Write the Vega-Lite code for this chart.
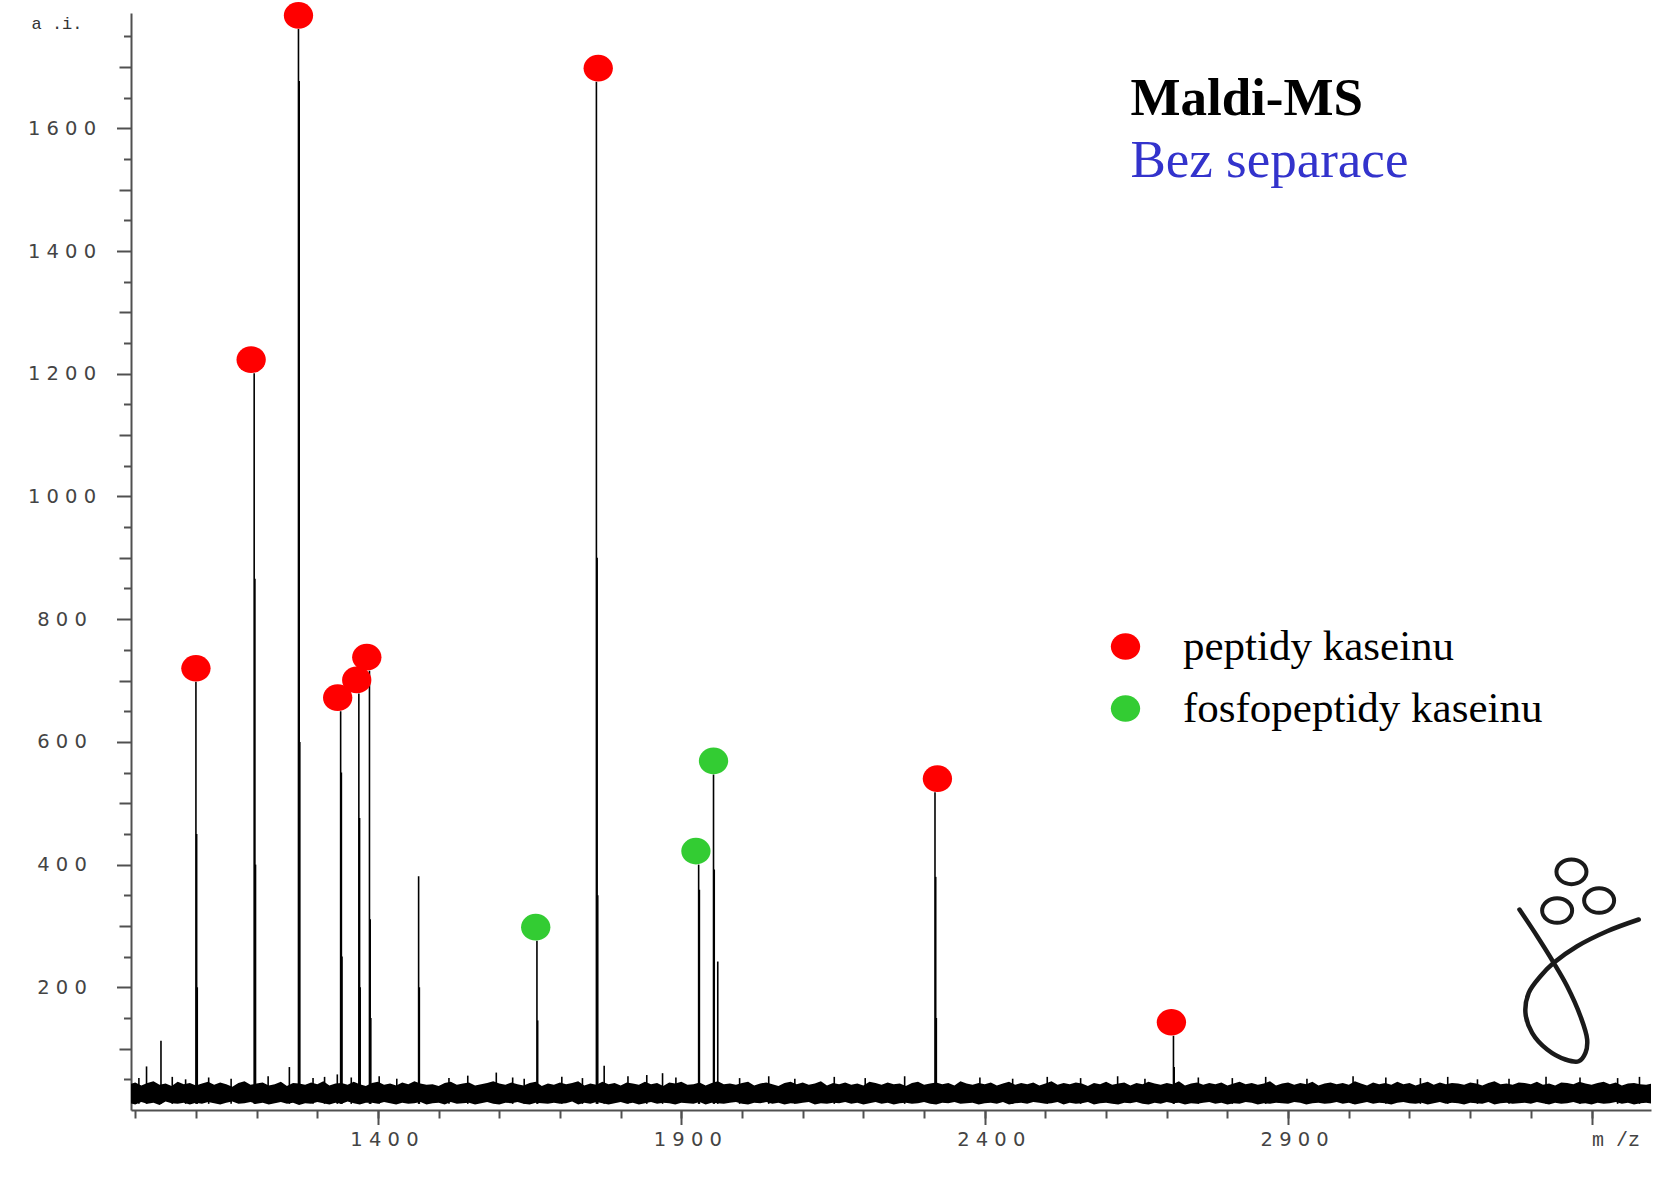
{
  "$schema": "https://vega.github.io/schema/vega-lite/v6.json",
  "width": 1520,
  "height": 1097,
  "autosize": {"type": "none"},
  "padding": {"left": 131, "top": 13, "right": 16, "bottom": 72},
  "background": "white",
  "config": {
    "view": {"stroke": null},
    "axis": {"grid": false, "domainColor": "#505050", "tickColor": "#505050", "tickWidth": 2, "domainWidth": 2, "labelColor": "#444444", "labelFont": "DejaVu Sans", "labelFontSize": 19.5}
  },
  "datasets": {
    "band": [
      {"m":990,"lo":11,"hi":42},{"m":1000,"lo":9,"hi":45},{"m":1010,"lo":13,"hi":40},{"m":1020,"lo":10,"hi":44},{"m":1030,"lo":12,"hi":47},{"m":1040,"lo":8,"hi":41},{"m":1050,"lo":14,"hi":43},{"m":1060,"lo":11,"hi":39},{"m":1070,"lo":10,"hi":46},{"m":1080,"lo":12,"hi":42},
      {"m":1090,"lo":9,"hi":44},{"m":1100,"lo":12,"hi":40},{"m":1110,"lo":10,"hi":43},{"m":1120,"lo":13,"hi":46},{"m":1130,"lo":11,"hi":41},{"m":1140,"lo":9,"hi":45},{"m":1150,"lo":12,"hi":42},{"m":1160,"lo":14,"hi":38},{"m":1170,"lo":10,"hi":44},{"m":1180,"lo":11,"hi":47},
      {"m":1190,"lo":13,"hi":41},{"m":1200,"lo":10,"hi":43},{"m":1210,"lo":12,"hi":45},{"m":1220,"lo":9,"hi":40},{"m":1230,"lo":11,"hi":42},{"m":1240,"lo":13,"hi":46},{"m":1250,"lo":10,"hi":39},{"m":1260,"lo":12,"hi":44},{"m":1270,"lo":8,"hi":43},{"m":1280,"lo":11,"hi":41},
      {"m":1290,"lo":10,"hi":45},{"m":1300,"lo":13,"hi":42},{"m":1310,"lo":11,"hi":47},{"m":1320,"lo":9,"hi":40},{"m":1330,"lo":12,"hi":43},{"m":1340,"lo":10,"hi":44},{"m":1350,"lo":14,"hi":41},{"m":1360,"lo":11,"hi":46},{"m":1370,"lo":9,"hi":42},{"m":1380,"lo":12,"hi":39},
      {"m":1390,"lo":12,"hi":44},{"m":1400,"lo":10,"hi":46},{"m":1410,"lo":13,"hi":41},{"m":1420,"lo":11,"hi":43},{"m":1430,"lo":9,"hi":40},{"m":1440,"lo":12,"hi":45},{"m":1450,"lo":10,"hi":42},{"m":1460,"lo":11,"hi":47},{"m":1470,"lo":13,"hi":43},{"m":1480,"lo":9,"hi":41},
      {"m":1490,"lo":11,"hi":42},{"m":1500,"lo":12,"hi":39},{"m":1510,"lo":9,"hi":44},{"m":1520,"lo":13,"hi":46},{"m":1530,"lo":10,"hi":41},{"m":1540,"lo":11,"hi":43},{"m":1550,"lo":12,"hi":45},{"m":1560,"lo":9,"hi":40},{"m":1570,"lo":11,"hi":42},{"m":1580,"lo":13,"hi":44},
      {"m":1590,"lo":10,"hi":47},{"m":1600,"lo":9,"hi":43},{"m":1610,"lo":12,"hi":41},{"m":1620,"lo":11,"hi":45},{"m":1630,"lo":13,"hi":42},{"m":1640,"lo":10,"hi":40},{"m":1650,"lo":9,"hi":44},{"m":1660,"lo":12,"hi":46},{"m":1670,"lo":11,"hi":39},{"m":1680,"lo":10,"hi":43},
      {"m":1690,"lo":12,"hi":41},{"m":1700,"lo":10,"hi":45},{"m":1710,"lo":11,"hi":42},{"m":1720,"lo":14,"hi":44},{"m":1730,"lo":9,"hi":47},{"m":1740,"lo":12,"hi":40},{"m":1750,"lo":10,"hi":43},{"m":1760,"lo":13,"hi":41},{"m":1770,"lo":11,"hi":46},{"m":1780,"lo":9,"hi":42},
      {"m":1790,"lo":11,"hi":44},{"m":1800,"lo":13,"hi":40},{"m":1810,"lo":10,"hi":45},{"m":1820,"lo":12,"hi":43},{"m":1830,"lo":9,"hi":41},{"m":1840,"lo":11,"hi":46},{"m":1850,"lo":13,"hi":42},{"m":1860,"lo":10,"hi":44},{"m":1870,"lo":12,"hi":39},{"m":1880,"lo":11,"hi":45},
      {"m":1890,"lo":9,"hi":43},{"m":1900,"lo":12,"hi":46},{"m":1910,"lo":11,"hi":41},{"m":1920,"lo":10,"hi":42},{"m":1930,"lo":13,"hi":45},{"m":1940,"lo":9,"hi":40},{"m":1950,"lo":12,"hi":44},{"m":1960,"lo":11,"hi":47},{"m":1970,"lo":10,"hi":42},{"m":1980,"lo":12,"hi":43},
      {"m":1990,"lo":13,"hi":41},{"m":2000,"lo":10,"hi":44},{"m":2010,"lo":9,"hi":46},{"m":2020,"lo":12,"hi":40},{"m":2030,"lo":11,"hi":43},{"m":2040,"lo":13,"hi":45},{"m":2050,"lo":10,"hi":42},{"m":2060,"lo":12,"hi":39},{"m":2070,"lo":9,"hi":44},{"m":2080,"lo":11,"hi":46},
      {"m":2090,"lo":10,"hi":42},{"m":2100,"lo":12,"hi":45},{"m":2110,"lo":13,"hi":41},{"m":2120,"lo":9,"hi":43},{"m":2130,"lo":11,"hi":47},{"m":2140,"lo":10,"hi":40},{"m":2150,"lo":12,"hi":44},{"m":2160,"lo":11,"hi":42},{"m":2170,"lo":13,"hi":45},{"m":2180,"lo":10,"hi":41},
      {"m":2190,"lo":12,"hi":43},{"m":2200,"lo":9,"hi":40},{"m":2210,"lo":11,"hi":46},{"m":2220,"lo":13,"hi":44},{"m":2230,"lo":10,"hi":41},{"m":2240,"lo":12,"hi":45},{"m":2250,"lo":9,"hi":42},{"m":2260,"lo":11,"hi":43},{"m":2270,"lo":12,"hi":39},{"m":2280,"lo":10,"hi":44},
      {"m":2290,"lo":11,"hi":46},{"m":2300,"lo":13,"hi":41},{"m":2310,"lo":10,"hi":43},{"m":2320,"lo":9,"hi":45},{"m":2330,"lo":12,"hi":42},{"m":2340,"lo":11,"hi":44},{"m":2350,"lo":13,"hi":40},{"m":2360,"lo":10,"hi":47},{"m":2370,"lo":11,"hi":43},{"m":2380,"lo":12,"hi":41},
      {"m":2390,"lo":9,"hi":44},{"m":2400,"lo":11,"hi":42},{"m":2410,"lo":12,"hi":45},{"m":2420,"lo":10,"hi":40},{"m":2430,"lo":13,"hi":43},{"m":2440,"lo":9,"hi":46},{"m":2450,"lo":11,"hi":41},{"m":2460,"lo":12,"hi":44},{"m":2470,"lo":10,"hi":42},{"m":2480,"lo":13,"hi":45},
      {"m":2490,"lo":12,"hi":40},{"m":2500,"lo":10,"hi":43},{"m":2510,"lo":11,"hi":47},{"m":2520,"lo":13,"hi":41},{"m":2530,"lo":9,"hi":44},{"m":2540,"lo":12,"hi":42},{"m":2550,"lo":10,"hi":45},{"m":2560,"lo":11,"hi":43},{"m":2570,"lo":13,"hi":39},{"m":2580,"lo":9,"hi":44},
      {"m":2590,"lo":11,"hi":42},{"m":2600,"lo":12,"hi":46},{"m":2610,"lo":10,"hi":41},{"m":2620,"lo":9,"hi":43},{"m":2630,"lo":12,"hi":45},{"m":2640,"lo":11,"hi":40},{"m":2650,"lo":13,"hi":44},{"m":2660,"lo":10,"hi":42},{"m":2670,"lo":9,"hi":46},{"m":2680,"lo":12,"hi":43},
      {"m":2690,"lo":10,"hi":41},{"m":2700,"lo":13,"hi":44},{"m":2710,"lo":11,"hi":42},{"m":2720,"lo":12,"hi":47},{"m":2730,"lo":9,"hi":40},{"m":2740,"lo":11,"hi":43},{"m":2750,"lo":10,"hi":45},{"m":2760,"lo":12,"hi":41},{"m":2770,"lo":13,"hi":44},{"m":2780,"lo":10,"hi":42},
      {"m":2790,"lo":12,"hi":45},{"m":2800,"lo":9,"hi":40},{"m":2810,"lo":11,"hi":43},{"m":2820,"lo":10,"hi":46},{"m":2830,"lo":13,"hi":42},{"m":2840,"lo":12,"hi":44},{"m":2850,"lo":9,"hi":41},{"m":2860,"lo":11,"hi":43},{"m":2870,"lo":10,"hi":47},{"m":2880,"lo":12,"hi":40},
      {"m":2890,"lo":11,"hi":43},{"m":2900,"lo":10,"hi":45},{"m":2910,"lo":13,"hi":41},{"m":2920,"lo":12,"hi":44},{"m":2930,"lo":9,"hi":42},{"m":2940,"lo":11,"hi":46},{"m":2950,"lo":12,"hi":40},{"m":2960,"lo":10,"hi":43},{"m":2970,"lo":11,"hi":45},{"m":2980,"lo":13,"hi":42},
      {"m":2990,"lo":10,"hi":44},{"m":3000,"lo":12,"hi":41},{"m":3010,"lo":9,"hi":47},{"m":3020,"lo":11,"hi":43},{"m":3030,"lo":13,"hi":40},{"m":3040,"lo":10,"hi":45},{"m":3050,"lo":12,"hi":42},{"m":3060,"lo":11,"hi":44},{"m":3070,"lo":9,"hi":41},{"m":3080,"lo":12,"hi":46},
      {"m":3090,"lo":13,"hi":42},{"m":3100,"lo":11,"hi":44},{"m":3110,"lo":10,"hi":40},{"m":3120,"lo":12,"hi":43},{"m":3130,"lo":9,"hi":46},{"m":3140,"lo":11,"hi":41},{"m":3150,"lo":13,"hi":45},{"m":3160,"lo":10,"hi":42},{"m":3170,"lo":12,"hi":44},{"m":3180,"lo":11,"hi":43},
      {"m":3190,"lo":9,"hi":41},{"m":3200,"lo":12,"hi":45},{"m":3210,"lo":11,"hi":43},{"m":3220,"lo":10,"hi":40},{"m":3230,"lo":13,"hi":44},{"m":3240,"lo":9,"hi":47},{"m":3250,"lo":11,"hi":42},{"m":3260,"lo":12,"hi":43},{"m":3270,"lo":10,"hi":41},{"m":3280,"lo":11,"hi":45},
      {"m":3290,"lo":12,"hi":44},{"m":3300,"lo":10,"hi":42},{"m":3310,"lo":13,"hi":46},{"m":3320,"lo":11,"hi":41},{"m":3330,"lo":9,"hi":43},{"m":3340,"lo":12,"hi":40},{"m":3350,"lo":10,"hi":45},{"m":3360,"lo":11,"hi":44},{"m":3370,"lo":13,"hi":42},{"m":3380,"lo":10,"hi":46},
      {"m":3390,"lo":11,"hi":43},{"m":3400,"lo":9,"hi":41},{"m":3410,"lo":12,"hi":44},{"m":3420,"lo":10,"hi":46},{"m":3430,"lo":11,"hi":42},{"m":3440,"lo":13,"hi":45},{"m":3450,"lo":10,"hi":40},{"m":3460,"lo":12,"hi":43},{"m":3470,"lo":9,"hi":44},{"m":3480,"lo":11,"hi":42},
      {"m":3490,"lo":12,"hi":41},{"m":3500,"lo":10,"hi":43}
    ],
    "peaks": [
      {"m":1018.6,"v":71},{"m":1042.4,"v":113},
      {"m":1100,"v":698},{"m":1101.2,"v":450},{"m":1102.2,"v":200},
      {"m":1196,"v":1201},{"m":1197.2,"v":866},{"m":1198.2,"v":400},
      {"m":1254,"v":70},
      {"m":1269,"v":1762},{"m":1270.2,"v":1677},{"m":1271.2,"v":600},
      {"m":1333,"v":58},
      {"m":1338.5,"v":650},{"m":1339.7,"v":550},{"m":1340.7,"v":250},
      {"m":1368.5,"v":679},{"m":1369.7,"v":476},{"m":1370.7,"v":200},
      {"m":1386,"v":716},{"m":1387.2,"v":311},{"m":1388.2,"v":150},
      {"m":1467,"v":381},{"m":1468.2,"v":200},
      {"m":1595,"v":61},
      {"m":1662,"v":276},{"m":1663.2,"v":146},
      {"m":1760,"v":1676},{"m":1761.2,"v":900},{"m":1762.2,"v":350},
      {"m":1772.8,"v":72},{"m":1869,"v":60},
      {"m":1928.5,"v":400},{"m":1929.7,"v":359},
      {"m":1953,"v":547},{"m":1954.2,"v":392},
      {"m":1960,"v":242},
      {"m":2318,"v":518},{"m":2319.2,"v":380},{"m":2320.2,"v":150},
      {"m":2711,"v":121},{"m":2712.2,"v":70},
      {"m":3007,"v":55},{"m":3212,"v":50},{"m":3325,"v":54},
      {"m":1006,"v":52},{"m":1061,"v":54},{"m":1083,"v":50},{"m":1121,"v":53},{"m":1158,"v":51},{"m":1219,"v":55},{"m":1293,"v":52},{"m":1312,"v":54},{"m":1356,"v":53},{"m":1402,"v":55},{"m":1431,"v":51},{"m":1517,"v":52},{"m":1548,"v":56},{"m":1622,"v":53},{"m":1641,"v":51},{"m":1703,"v":54},{"m":1737,"v":52},{"m":1812,"v":55},{"m":1843,"v":57},{"m":1891,"v":53},{"m":1996,"v":52},{"m":2044,"v":55},{"m":2087,"v":51},{"m":2152,"v":54},{"m":2203,"v":52},{"m":2268,"v":55},{"m":2392,"v":53},{"m":2446,"v":51},{"m":2503,"v":54},{"m":2558,"v":52},{"m":2619,"v":55},{"m":2664,"v":51},{"m":2752,"v":53},{"m":2808,"v":52},{"m":2863,"v":54},{"m":2931,"v":51},{"m":3061,"v":53},{"m":3118,"v":52},{"m":3163,"v":54},{"m":3264,"v":51},{"m":3381,"v":53},{"m":3443,"v":52},{"m":3479,"v":54}
    ],
    "markers": [
      {"m":1100,"v":698,"typ":"peptidy kaseinu"},
      {"m":1191,"v":1201,"typ":"peptidy kaseinu"},
      {"m":1269,"v":1762,"typ":"peptidy kaseinu"},
      {"m":1333.6,"v":650,"typ":"peptidy kaseinu"},
      {"m":1365,"v":679,"typ":"peptidy kaseinu"},
      {"m":1381.6,"v":716,"typ":"peptidy kaseinu"},
      {"m":1660,"v":276,"typ":"fosfopeptidy kaseinu"},
      {"m":1763,"v":1676,"typ":"peptidy kaseinu"},
      {"m":1924,"v":400,"typ":"fosfopeptidy kaseinu"},
      {"m":1953,"v":547,"typ":"fosfopeptidy kaseinu"},
      {"m":2322,"v":518,"typ":"peptidy kaseinu"},
      {"m":2707.6,"v":121,"typ":"peptidy kaseinu"}
    ],
    "logo": [
      {"i":1,"m":3281.2,"v":326.8},{"i":2,"m":3310.4,"v":283.2},{"i":3,"m":3337.7,"v":239.9},{"i":4,"m":3359.8,"v":201.8},{"i":5,"m":3381.7,"v":152.9},{"i":6,"m":3392.8,"v":114.9},{"i":7,"m":3390,"v":93.2},{"i":8,"m":3378.9,"v":79.5},{"i":9,"m":3357,"v":82.3},{"i":10,"m":3326.9,"v":98.6},{"i":11,"m":3302.1,"v":125.8},{"i":12,"m":3291.1,"v":158.4},{"i":13,"m":3296.5,"v":191},{"i":14,"m":3315.8,"v":218.1},{"i":15,"m":3337.7,"v":239.9},{"i":16,"m":3376.3,"v":266.9},{"i":17,"m":3425.7,"v":291.4},{"i":18,"m":3477.8,"v":310.5}
    ],
    "rings": [
      {"m":3366.9,"v":388.2},{"m":3343.3,"v":325.1},{"m":3412.5,"v":341.4}
    ],
    "notes": [
      {"m":2640,"v":1622,"t":"Maldi-MS"},
      {"m":2640,"v":1520,"t":"Bez separace"}
    ]
  },
  "resolve": {"axis": {"x": "independent", "y": "independent"}},
  "layer": [
    {
      "data": {"name": "band"},
      "mark": {"type": "area", "interpolate": "linear", "color": "black", "clip": true},
      "encoding": {
        "x": {"field": "m", "type": "quantitative", "scale": {"domain": [993, 3498], "nice": false, "zero": false},
          "axis": {"orient": "bottom", "values": [1400, 1900, 2400, 2900], "tickSize": 14.5, "format": "d", "labelPadding": 6, "labelOffset": 6,
            "labelExpr": "substring(datum.label,0,1)+' '+substring(datum.label,1,2)+' '+substring(datum.label,2,3)+' '+substring(datum.label,3,4)", "title": null}},
        "y": {"field": "hi", "type": "quantitative", "scale": {"domain": [0, 1788], "nice": false, "zero": false},
          "axis": {"orient": "left", "values": [200, 400, 600, 800, 1000, 1200, 1400, 1600], "tickSize": 14.5, "format": "d", "labelAlign": "center", "labelPadding": 55,
            "labelExpr": "length(datum.label) == 3 ? substring(datum.label,0,1)+' '+substring(datum.label,1,2)+' '+substring(datum.label,2,3) : substring(datum.label,0,1)+' '+substring(datum.label,1,2)+' '+substring(datum.label,2,3)+' '+substring(datum.label,3,4)",
            "title": "a .i.", "titleAngle": 0, "titleX": -100, "titleY": 10, "titleAlign": "left", "titleBaseline": "middle", "titleFont": "Liberation Mono", "titleFontSize": 17, "titleFontWeight": "normal", "titleColor": "#333333"}},
        "y2": {"field": "lo"}
      }
    },
    {
      "data": {"name": "peaks"},
      "mark": {"type": "rule", "color": "black", "strokeWidth": 1.6},
      "encoding": {
        "x": {"field": "m", "type": "quantitative",
          "axis": {"orient": "bottom", "values": [1000,1100,1200,1300,1400,1500,1600,1700,1800,1900,2000,2100,2200,2300,2400,2500,2600,2700,2800,2900,3000,3100,3200,3300,3400], "tickSize": 8, "labels": false, "domain": false, "title": null}},
        "y": {"field": "v", "type": "quantitative",
          "axis": {"orient": "left", "values": [100,300,500,700,900,1100,1300,1500,1700], "tickSize": 12, "labels": false, "domain": false, "title": null}},
        "y2": {"datum": 10}
      }
    },
    {
      "data": {"name": "markers"},
      "mark": {"type": "point", "filled": true, "opacity": 1, "size": 860, "yOffset": -13.5, "shape": "M -1 0 A 1 0.91 0 1 1 1 0 A 1 0.91 0 1 1 -1 0 Z"},
      "encoding": {
        "x": {"field": "m", "type": "quantitative",
          "axis": {"orient": "bottom", "values": [3400], "tickSize": 14.5, "labelExpr": "'m /z'", "labelAlign": "left", "labelFont": "Liberation Mono", "labelFontSize": 20, "labelPadding": 5, "domain": false, "title": null}},
        "y": {"field": "v", "type": "quantitative",
          "axis": {"orient": "left", "values": [50,150,250,350,450,550,650,750,850,950,1050,1150,1250,1350,1450,1550,1650,1750], "tickSize": 7.5, "labels": false, "domain": false, "title": null}},
        "color": {"field": "typ", "type": "nominal",
          "scale": {"domain": ["peptidy kaseinu", "fosfopeptidy kaseinu"], "range": ["#ff0000", "#33cc33"]},
          "legend": {"title": null, "orient": "none", "legendX": 973, "legendY": 612, "padding": 0,
            "symbolType": "M -1 0 A 1 0.91 0 1 1 1 0 A 1 0.91 0 1 1 -1 0 Z", "symbolSize": 860, "symbolStrokeWidth": 0, "symbolOpacity": 1,
            "labelFont": "Liberation Serif", "labelFontSize": 43, "labelColor": "black", "labelLimit": 800, "labelOffset": 36, "rowPadding": 18}}
      }
    },
    {
      "data": {"name": "logo"},
      "mark": {"type": "line", "color": "#1a1a1a", "strokeWidth": 4.5, "interpolate": "catmull-rom", "strokeCap": "round"},
      "encoding": {
        "x": {"field": "m", "type": "quantitative", "axis": null},
        "y": {"field": "v", "type": "quantitative", "axis": null},
        "order": {"field": "i", "type": "quantitative"}
      }
    },
    {
      "data": {"name": "rings"},
      "mark": {"type": "point", "filled": false, "opacity": 1, "size": 900, "stroke": "#1a1a1a", "strokeWidth": 4, "shape": "M -1 0 A 1 0.82 0 1 1 1 0 A 1 0.82 0 1 1 -1 0 Z"},
      "encoding": {
        "x": {"field": "m", "type": "quantitative", "axis": null},
        "y": {"field": "v", "type": "quantitative", "axis": null}
      }
    },
    {
      "data": {"name": "notes"},
      "transform": [{"filter": "datum.t == 'Maldi-MS'"}],
      "mark": {"type": "text", "align": "left", "baseline": "alphabetic", "font": "Liberation Serif", "fontSize": 53, "fontWeight": "bold", "color": "black"},
      "encoding": {
        "x": {"field": "m", "type": "quantitative", "axis": null},
        "y": {"field": "v", "type": "quantitative", "axis": null},
        "text": {"field": "t"}
      }
    },
    {
      "data": {"name": "notes"},
      "transform": [{"filter": "datum.t == 'Bez separace'"}],
      "mark": {"type": "text", "align": "left", "baseline": "alphabetic", "font": "Liberation Serif", "fontSize": 53, "fontWeight": "normal", "color": "#3333cc"},
      "encoding": {
        "x": {"field": "m", "type": "quantitative", "axis": null},
        "y": {"field": "v", "type": "quantitative", "axis": null},
        "text": {"field": "t"}
      }
    }
  ]
}
